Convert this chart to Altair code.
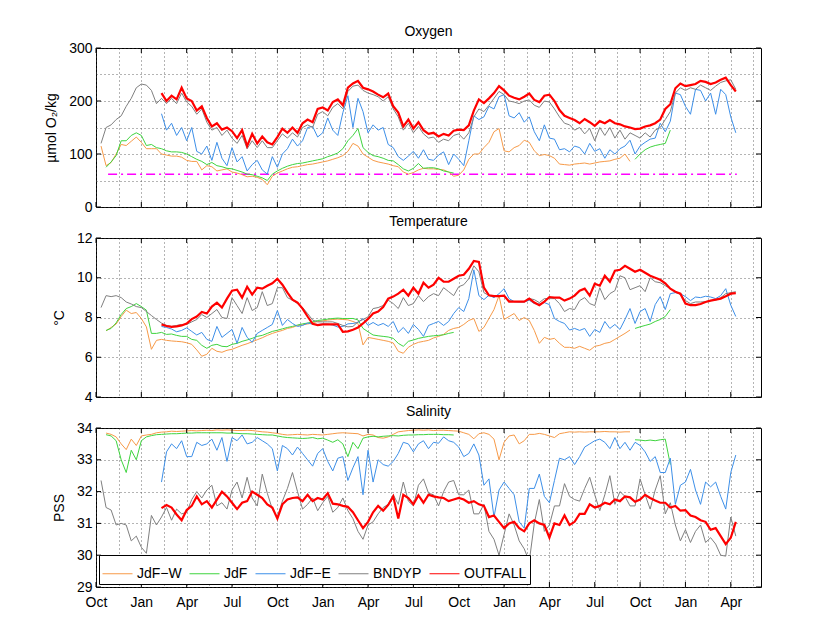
import altair as alt
import pandas as pd

# ---------------------------------------------------------------- constants
SERIES = ["JdF\u2212W", "JdF", "JdF\u2212E", "BNDYP", "OUTFALL"]
COLORS = ["#f79a48", "#3fd43f", "#3d8fe8", "#808080", "#ff0000"]
WIDTHS = [1, 1, 1, 1, 2.2]
MONTH_NAMES = ["Oct", "Jan", "Apr", "Jul"]
TICK_MONTHS = [0, 3, 6, 9, 12, 15, 18, 21, 24, 27, 30, 33, 36, 39, 42]
GRID_MONTHS = [0, 1.5, 3, 4.5, 6, 7.5, 9, 10.5, 12, 13.5, 15, 16.5, 18, 19.5, 21, 22.5,
               24, 25.5, 27, 28.5, 30, 31.5, 33, 34.5, 36, 37.5, 39, 40.5, 42, 43.5]
STEP = 1 / 3  # sampling interval of the series, months since 1 Oct

# ---------------------------------------------------------------- oxygen (umol/kg)
OXY_JDFW_START = 1
OXY_JDFW = [115, 78, 84, 100, 118, 116, 124, 132, 122, 110, 110,
            110, 100, 98, 96, 96, 94, 88, 86, 86, 70,
            78, 76, 68, 70, 72, 66, 64, 61, 57, 58,
            56, 52, 42, 58, 64, 68, 72, 75, 76, 78,
            80, 81, 83, 85, 87, 90, 93, 97, 105, 120,
            115, 100, 94, 88, 85, 83, 81, 78, 76, 66,
            62, 65, 70, 73, 72, 72, 71, 70, 66, 58,
            60, 70, 90, 100, 100, 112, 122, 142, 148, 106,
            104, 112, 116, 126, 122, 106, 97, 99, 97, 92,
            81, 80, 79, 81, 82, 83, 81, 83, 85, 86,
            87, 90, 92, 100, 86]
OXY_JDF_A_START = 2
OXY_JDF_A = [75, 85, 97, 125, 125, 135, 140, 135, 116, 118,
             112, 110, 106, 104, 104, 103, 100, 95, 90, 86,
             80, 84, 78, 76, 73, 72, 69, 66, 62, 61,
             58, 55, 50, 62, 68, 73, 77, 80, 82, 83,
             85, 87, 89, 91, 95, 98, 102, 110, 125, 135,
             148, 112, 103, 97, 95, 92, 88, 87, 80, 72,
             68, 73, 82, 73, 74, 74, 72, 68, 66, 64]
OXY_JDF_B_START = 107
OXY_JDF_B = [90, 100, 108, 113, 116, 118, 120, 145]
OXY_JDFE_START = 13
OXY_JDFE = [176, 145, 158, 135, 150, 125, 150, 105, 100, 115,
            88, 122, 92, 78, 112, 85, 95, 68, 80, 88,
            70, 62, 95, 75, 100, 110, 128, 115, 125, 150,
            152, 132, 140, 168, 145, 135, 178, 210, 150, 205,
            180, 140, 155, 145, 150, 118, 112, 95, 88, 96,
            105, 92, 108, 90, 88, 98, 104, 80, 100, 90,
            78, 125, 172, 165, 170, 190, 185, 208, 212, 172,
            168, 178, 160, 170, 142, 125, 155, 130, 128, 108,
            110, 104, 115, 112, 100, 120, 105, 110, 92, 108,
            100, 110, 115, 126, 100, 115, 122, 128, 130, 158,
            142, 162, 215, 212, 190, 175, 222, 220, 200, 215,
            175, 222, 212, 170, 140]
OXY_BNDYP_START = 1
OXY_BNDYP = [120, 150, 155, 165, 172, 190, 205, 225, 232, 230,
             220, 195, 205, 195, 205, 195, 215, 198, 190, 175,
             185, 160, 145, 150, 135, 145, 130, 120, 135, 110,
             125, 112, 125, 112, 112, 125, 138, 130, 140, 132,
             150, 155, 150, 175, 180, 172, 188, 195, 185, 218,
             228, 230, 220, 215, 212, 208, 200, 208, 185, 170,
             145, 158, 140, 152, 138, 130, 132, 122, 128, 125,
             135, 138, 128, 140, 170, 185, 180, 192, 205, 218,
             212, 200, 198, 195, 200, 202, 192, 188, 200, 198,
             185, 170, 158, 155, 145, 150, 138, 148, 125, 150,
             135, 150, 130, 145, 128, 140, 135, 130, 140, 132,
             145, 150, 165, 180, 215, 225, 220, 225, 222, 230,
             225, 220, 228, 235, 238, 240, 222]
OXY_OUTFALL_START = 13
OXY_OUTFALL = [215, 200, 210, 203, 225, 205, 200, 182, 190, 168,
               152, 158, 146, 150, 143, 130, 145, 115, 138, 120,
               133, 122, 118, 132, 148, 140, 150, 140, 158, 165,
               160, 185, 188, 182, 198, 203, 192, 225, 233, 238,
               225, 222, 218, 212, 207, 214, 190, 178, 152, 165,
               148, 160, 145, 138, 140, 133, 138, 135, 144, 146,
               145, 154, 182, 203, 196, 205, 215, 228, 220, 210,
               206, 203, 208, 214, 202, 198, 210, 212, 200, 183,
               172, 168, 164, 158, 166, 160, 153, 162, 158, 164,
               158, 156, 152, 150, 147, 148, 152, 154, 158, 165,
               185, 194, 224, 233, 228, 230, 232, 238, 236, 232,
               235, 240, 244, 230, 218]
OXY_THRESHOLD = [62, 62]
OXY_THRESHOLD_MONTHS = [0.8, 42.4]

# ---------------------------------------------------------------- temperature (deg C)
TEMP_JDFW_START = 2
TEMP_JDFW = [7.33, 7.5, 7.67, 8.05, 8.37, 8.2, 8.25, 7.95, 7.53, 6.4,
             6.85, 6.9, 6.85, 6.82, 6.8, 6.78, 6.73, 6.65, 6.37, 6.05,
             6.15, 6.45, 6.3, 6.25, 6.35, 6.4, 6.5, 6.6, 6.68, 6.78,
             6.88, 6.98, 7.1, 7.2, 7.28, 7.35, 7.45, 7.5, 7.6, 7.63,
             7.67, 7.73, 7.8, 7.83, 7.87, 7.9, 7.92, 7.9, 7.88, 7.8,
             7.7, 6.62, 7.0, 6.95, 6.9, 6.85, 6.8, 6.72, 6.3, 6.2,
             6.5, 6.65, 6.75, 6.8, 6.85, 6.97, 7.05, 7.15, 7.35, 7.45,
             7.5, 7.65, 7.85, 7.95, 7.3, 7.5, 7.95, 8.4, 9.1, 7.9,
             8.05, 8.2, 7.85, 8.0, 7.85, 7.35, 6.7, 7.0, 6.9, 6.95,
             6.7, 6.5, 6.5, 6.45, 6.55, 6.45, 6.35, 6.55, 6.6, 6.7,
             6.75, 6.9, 7.05, 7.2, 7.37]
TEMP_JDF_A_START = 2
TEMP_JDF_A = [7.35, 7.45, 7.73, 8.15, 8.45, 8.55, 8.7, 8.55, 8.37, 7.2,
              7.2, 7.25, 7.15, 7.17, 7.1, 7.05, 7.05, 6.9, 6.85, 6.6,
              6.45, 6.6, 6.65, 6.55, 6.53, 6.65, 6.7, 6.8, 6.87, 6.95,
              7.05, 7.1, 7.2, 7.3, 7.36, 7.43, 7.5, 7.55, 7.62, 7.68,
              7.72, 7.78, 7.85, 7.88, 7.92, 7.95, 7.97, 7.95, 7.95, 7.95,
              7.88, 7.45, 7.28, 7.12, 7.08, 7.05, 7.02, 6.95, 6.7, 6.55,
              6.8, 6.87, 6.95, 7.0, 7.05, 7.08, 7.1, 7.13, 7.2, 7.25]
TEMP_JDF_B_START = 107
TEMP_JDF_B = [7.45, 7.53, 7.6, 7.67, 7.8, 7.9, 8.05, 8.4]
TEMP_JDFE_START = 13
TEMP_JDFE = [7.55, 7.5, 7.42, 7.28, 7.35, 7.48, 7.3, 7.12, 7.25, 6.9,
             6.8, 7.55, 7.0, 7.2, 7.4, 6.7, 7.5, 7.0, 6.75, 7.2,
             7.35, 7.5, 7.65, 8.35, 7.6, 7.9, 7.7, 7.55, 7.6, 7.72,
             7.67, 7.65, 7.67, 7.67, 7.62, 7.52, 7.55, 7.68, 7.7, 7.75,
             7.95, 7.6, 7.75, 7.6, 7.7, 7.55, 7.8, 7.25, 7.5, 7.2,
             7.65, 7.4, 7.05, 7.6, 7.7, 7.8, 7.6, 7.8, 8.2, 8.5,
             8.3, 8.95, 10.4, 9.1, 8.9, 9.12, 9.0, 9.2, 9.45, 8.95,
             8.8, 8.78, 8.78, 8.87, 8.7, 8.68, 8.75, 8.65, 7.95, 7.8,
             7.7, 7.37, 7.45, 7.35, 7.45, 7.05, 7.4, 7.25, 7.8, 7.45,
             7.65, 7.4, 7.9, 8.45, 7.7, 8.3, 8.45, 7.8, 8.65, 9.05,
             8.4, 9.2, 9.25, 9.2, 9.05, 8.85, 9.03, 9.0, 9.07, 9.03,
             8.95, 9.1, 9.45, 8.62, 8.05]
TEMP_BNDYP_START = 1
TEMP_BNDYP = [8.5, 9.1, 9.05, 9.1, 9.0, 8.78, 8.68, 8.55, 8.5, 8.3,
              8.1, 7.9, 7.72, 7.6, 7.55, 7.6, 7.65, 7.65, 7.78, 7.9,
              8.15, 8.0, 8.2, 8.4, 8.0, 7.95, 9.0, 8.6, 8.2, 9.0,
              8.35, 8.5, 9.3, 8.6, 8.7, 9.5, 9.5, 9.0, 8.87, 8.7,
              8.5, 8.2, 7.87, 7.78, 7.78, 7.78, 7.78, 7.7, 7.6, 7.53,
              7.55, 7.78, 7.9, 8.03, 8.45, 8.5, 8.6, 8.87, 8.7, 8.45,
              9.0, 8.6, 8.7, 9.1, 8.8, 9.05, 9.2, 9.1, 9.5, 9.3,
              9.1, 9.55, 9.65, 9.95, 10.6, 10.3, 9.25, 9.1, 9.08, 9.1,
              9.05, 8.85, 8.8, 8.8, 8.8, 8.95, 8.9, 8.75, 8.95, 8.95,
              8.95, 8.7, 8.3, 8.45, 8.4, 8.85, 9.0, 8.7, 8.6, 9.5,
              8.9, 9.2, 9.35, 10.1, 10.0, 9.4, 9.5, 9.6, 9.3, 10.0,
              9.8, 9.75, 9.6, 9.45, 9.3, 9.15, 8.85, 8.7, 8.78, 8.78,
              8.8, 8.85, 8.87, 9.0, 9.2, 9.25, 9.3]
TEMP_OUTFALL_START = 13
TEMP_OUTFALL = [7.65, 7.57, 7.53, 7.55, 7.6, 7.7, 7.92, 8.05, 8.28, 8.2,
                8.55, 8.75, 8.5, 8.95, 9.35, 9.4, 9.0, 9.55, 9.15, 9.5,
                9.45, 9.6, 9.72, 9.95, 9.65, 9.25, 8.9, 8.75, 8.45, 8.05,
                7.68, 7.62, 7.65, 7.66, 7.65, 7.65, 7.28, 7.3, 7.38, 7.5,
                7.7, 7.93, 8.2, 8.3, 8.53, 8.95, 9.05, 9.2, 9.4, 9.1,
                9.5, 9.2, 9.75, 9.5, 9.65, 10.0, 9.8, 9.8, 9.95, 10.1,
                10.15, 10.45, 10.85, 10.8, 9.5, 9.12, 9.08, 9.08, 9.1, 8.8,
                8.8, 8.8, 8.8, 8.95, 8.75, 8.62, 8.8, 9.03, 9.0, 9.0,
                8.85, 8.95, 9.1, 9.35, 9.45, 9.1, 9.7, 9.6, 10.1, 9.8,
                10.35, 10.4, 10.6, 10.45, 10.3, 10.4, 10.25, 10.1, 10.0, 9.9,
                9.72, 9.45, 9.3, 9.2, 8.7, 8.62, 8.62, 8.68, 8.78, 8.85,
                8.9, 8.95, 9.07, 9.2, 9.23]

# ---------------------------------------------------------------- salinity (PSS)
SAL_JDFW_START = 2
SAL_JDFW = [33.84, 33.8, 33.72, 33.5, 33.32, 33.65, 33.45, 33.75, 33.78, 33.8,
            33.85, 33.87, 33.88, 33.9, 33.89, 33.9, 33.91, 33.92, 33.91, 33.92,
            33.93, 33.92, 33.94, 33.93, 33.94, 33.93, 33.92, 33.92, 33.93, 33.92,
            33.9, 33.88, 33.87, 33.85, 33.83, 33.8, 33.78, 33.79, 33.8, 33.79,
            33.78, 33.8, 33.79, 33.78, 33.8, 33.82, 33.84, 33.85, 33.84, 33.83,
            33.82, 33.75, 33.8, 33.78, 33.7, 33.68, 33.72, 33.8, 33.88, 33.9,
            33.92, 33.93, 33.94, 33.93, 33.94, 33.92, 33.93, 33.93, 33.92, 33.91,
            33.9, 33.85, 33.8, 33.66, 33.82, 33.85, 33.8, 33.65, 33.0, 33.55,
            33.75, 33.78, 33.5, 33.6, 33.8, 33.8, 33.83, 33.8, 33.75, 33.7,
            33.82, 33.85, 33.88, 33.87, 33.88, 33.87, 33.88, 33.88, 33.88, 33.89,
            33.88, 33.88, 33.87, 33.88, 33.88]
SAL_JDF_A_START = 2
SAL_JDF_A = [33.79, 33.75, 33.6, 33.0, 32.6, 33.3, 33.0, 33.6, 33.72, 33.76,
             33.79, 33.8, 33.81, 33.82, 33.82, 33.83, 33.84, 33.84, 33.85, 33.85,
             33.85, 33.85, 33.85, 33.85, 33.84, 33.84, 33.83, 33.82, 33.82, 33.81,
             33.8, 33.79, 33.78, 33.78, 33.75, 33.72, 33.7, 33.69, 33.68, 33.67,
             33.68, 33.7, 33.66, 33.68, 33.62, 33.55, 33.63, 33.5, 33.1, 33.55,
             33.35, 33.68, 33.72, 33.74, 33.72, 33.74, 33.75, 33.76, 33.75, 33.77,
             33.78, 33.78, 33.79, 33.79, 33.8, 33.8, 33.8, 33.79, 33.79, 33.78]
SAL_JDF_B_START = 107
SAL_JDF_B = [33.63, 33.62, 33.6, 33.62, 33.6, 33.63, 33.65, 32.85]
SAL_JDFE_START = 13
SAL_JDFE = [32.3, 33.25, 33.5, 33.35, 33.6, 33.1, 33.1, 33.55, 33.45, 33.5,
            33.65, 33.3, 33.7, 32.95, 33.7, 33.6, 33.78, 33.5, 33.55, 33.7,
            33.6, 33.5, 33.35, 32.65, 33.45, 33.35, 33.15, 33.4, 33.2, 33.0,
            32.8, 33.2, 33.35, 32.95, 32.65, 33.05, 33.1, 32.35, 32.75, 33.1,
            31.9, 33.3, 32.3, 33.0, 32.85, 32.8, 32.95, 33.2, 33.55, 33.5,
            33.25, 33.5, 33.6, 33.35, 33.55, 33.52, 33.72, 33.6, 33.55, 33.4,
            33.1, 33.2, 33.5, 33.15, 32.2, 32.4, 31.2, 32.05, 32.3, 32.1,
            31.9, 31.05, 30.85, 32.1, 32.1, 32.55, 31.85, 31.65, 32.35, 33.05,
            33.0, 33.1, 32.85, 33.1, 33.4, 33.5, 33.6, 33.65, 33.55, 33.35,
            33.7, 33.35, 33.55, 33.3, 33.55, 33.45, 33.25, 32.95, 33.1, 32.6,
            32.6, 33.05, 31.6, 32.2, 32.3, 32.7, 32.05, 31.6, 32.3, 32.15,
            32.3, 31.85, 31.45, 32.6, 33.15]
SAL_BNDYP_START = 1
SAL_BNDYP = [32.35, 31.5, 31.42, 30.95, 31.0, 30.95, 30.45, 30.6, 30.25, 30.06,
             31.25, 30.95, 31.2, 31.5, 31.1, 31.45, 31.3, 31.35, 31.75, 32.0,
             31.8, 32.05, 32.2, 31.55, 31.65, 31.45, 32.05, 32.3, 31.8, 32.45,
             31.8, 31.55, 32.55, 31.95, 31.45, 31.2, 31.7, 32.1, 32.6, 32.0,
             31.45, 31.6, 31.8, 31.4, 31.65, 31.85, 31.35, 31.5, 31.8, 31.4,
             31.15, 30.75, 30.5, 30.95, 31.05, 31.3, 31.5, 31.6, 31.9, 31.6,
             32.3, 31.7, 31.55, 32.2, 32.4, 31.95, 31.9, 31.55, 32.0, 32.3,
             32.35, 31.9, 31.9, 32.05, 31.3, 31.3, 31.6, 30.75, 30.5, 30.0,
             30.65, 31.3, 30.95, 30.45, 30.2, 29.8, 31.0, 31.75, 30.75, 30.95,
             31.55, 31.55, 32.25, 31.85, 31.75, 31.7, 32.1, 32.45, 31.9, 31.4,
             31.9, 32.5, 31.6, 32.0, 31.85, 31.55, 31.55, 32.4, 31.9, 31.45,
             32.05, 32.5, 31.3, 31.65, 30.95, 30.45, 30.8, 30.4, 30.75, 30.95,
             30.4, 30.55, 30.35, 30.0, 29.97, 31.2, 30.6]
SAL_OUTFALL_START = 13
SAL_OUTFALL = [31.48, 31.58, 31.5, 31.28, 31.1, 31.42, 31.55, 31.85, 31.6, 31.7,
               31.5, 31.75, 32.0, 31.85, 31.65, 31.45, 31.65, 31.7, 32.0, 31.9,
               31.8, 31.6, 31.5, 31.15, 31.6, 31.75, 31.8, 31.82, 31.7, 31.9,
               31.7, 31.8, 31.75, 31.95, 31.62, 31.6, 31.55, 31.52, 31.35, 31.1,
               30.85, 31.05, 31.35, 31.55, 31.4, 31.58, 31.85, 31.15, 31.9, 31.8,
               31.6, 31.88, 31.65, 31.9, 31.85, 31.82, 31.8, 31.7, 31.75, 31.8,
               31.75, 31.65, 31.7, 31.6, 31.55, 31.2, 31.25, 31.05, 30.85, 31.0,
               31.05, 30.85, 30.75, 31.0, 31.1, 31.0, 30.95, 30.55, 31.0, 30.95,
               31.25, 30.95, 31.05, 31.3, 31.3, 31.6, 31.5, 31.55, 31.65, 31.6,
               31.75, 31.7, 31.85, 31.82, 31.68, 31.75, 31.9, 31.8, 31.72, 31.65,
               31.65, 31.5, 31.55, 31.4, 31.42, 31.25, 31.2, 31.1, 31.05, 30.8,
               30.85, 30.6, 30.35, 30.55, 31.05]

FONT = "Liberation Sans"
W, H = 665, 159


def frame(parts):
    rows = []
    for name, seg, start, values in parts:
        for k, v in enumerate(values):
            rows.append({"month": (start + k) * STEP, "value": v, "series": name, "seg": seg})
    return pd.DataFrame(rows)


def panel(df, title, ytitle, ydomain, yvalues, ylabels, show_x, legend, threshold=None):
    xscale = alt.Scale(domain=[0, 44], nice=False, zero=False)
    yscale = alt.Scale(domain=ydomain, nice=False, zero=False)
    xaxis = alt.Axis(values=GRID_MONTHS, grid=True, labels=show_x, ticks=False, domain=False,
                     title=None, labelFlush=False, labelOverlap=False, labelPadding=8,
                     labelExpr="datum.value % 3 == 0 ? " + str(MONTH_NAMES) +
                               "[floor(datum.value / 3) % 4] : ''")
    yaxis = alt.Axis(values=yvalues, grid=True, ticks=False, domain=False, title=ytitle,
                     labelFlush=False, labelOverlap=False, labelPadding=4, titlePadding=10,
                     labelExpr="indexof(" + str(ylabels) + ", datum.value) >= 0 ? datum.label : ''")
    X = alt.X("month:Q", scale=xscale, axis=xaxis)
    Y = alt.Y("value:Q", scale=yscale, axis=yaxis)
    color = alt.Color("series:N", scale=alt.Scale(domain=SERIES, range=COLORS), legend=legend)
    layers = []
    if threshold is not None:
        tdf = pd.DataFrame({"month": OXY_THRESHOLD_MONTHS, "value": threshold})
        layers.append(alt.Chart(tdf).mark_line(color="#ff00ff", strokeWidth=1.5,
                                               strokeDash=[9, 4, 2, 4]).encode(x=X, y=Y))
    for name, width in zip(SERIES, WIDTHS):
        layers.append(alt.Chart(df).transform_filter(alt.datum.series == name)
                      .mark_line(strokeWidth=width, clip=True)
                      .encode(x=X, y=Y, color=color, detail="seg:N"))
    xt = pd.DataFrame({"month": TICK_MONTHS})
    yt = pd.DataFrame({"value": ylabels})
    layers.append(alt.Chart(xt).mark_rule(color="black").encode(
        x=X, y=alt.value(H), y2=alt.value(H - 5)))
    layers.append(alt.Chart(xt).mark_rule(color="black").encode(
        x=X, y=alt.value(0), y2=alt.value(5)))
    layers.append(alt.Chart(yt).mark_rule(color="black").encode(
        y=Y, x=alt.value(0), x2=alt.value(5)))
    layers.append(alt.Chart(yt).mark_rule(color="black").encode(
        y=Y, x=alt.value(W), x2=alt.value(W - 5)))
    return alt.layer(*layers, title=alt.Title(title, frame="group")).properties(width=W, height=H)


oxy = frame([(SERIES[0], 0, OXY_JDFW_START, OXY_JDFW),
             (SERIES[1], 0, OXY_JDF_A_START, OXY_JDF_A),
             (SERIES[1], 1, OXY_JDF_B_START, OXY_JDF_B),
             (SERIES[2], 0, OXY_JDFE_START, OXY_JDFE),
             (SERIES[3], 0, OXY_BNDYP_START, OXY_BNDYP),
             (SERIES[4], 0, OXY_OUTFALL_START, OXY_OUTFALL)])
temp = frame([(SERIES[0], 0, TEMP_JDFW_START, TEMP_JDFW),
              (SERIES[1], 0, TEMP_JDF_A_START, TEMP_JDF_A),
              (SERIES[1], 1, TEMP_JDF_B_START, TEMP_JDF_B),
              (SERIES[2], 0, TEMP_JDFE_START, TEMP_JDFE),
              (SERIES[3], 0, TEMP_BNDYP_START, TEMP_BNDYP),
              (SERIES[4], 0, TEMP_OUTFALL_START, TEMP_OUTFALL)])
sal = frame([(SERIES[0], 0, SAL_JDFW_START, SAL_JDFW),
             (SERIES[1], 0, SAL_JDF_A_START, SAL_JDF_A),
             (SERIES[1], 1, SAL_JDF_B_START, SAL_JDF_B),
             (SERIES[2], 0, SAL_JDFE_START, SAL_JDFE),
             (SERIES[3], 0, SAL_BNDYP_START, SAL_BNDYP),
             (SERIES[4], 0, SAL_OUTFALL_START, SAL_OUTFALL)])

legend = alt.Legend(orient="bottom-left", direction="horizontal", columns=5, title=None,
                    symbolType="stroke", symbolSize=900, symbolStrokeWidth=1,
                    labelFont=FONT, labelFontSize=14, labelColor="black", labelOffset=4,
                    columnPadding=5, padding=3, offset=3, fillColor="white",
                    strokeColor="black")

p1 = panel(oxy, "Oxygen", "\u00b5mol O\u2082/kg", [0, 300], [0, 50, 100, 150, 200, 250, 300],
           [0, 100, 200, 300], False, None, threshold=OXY_THRESHOLD)
p2 = panel(temp, "Temperature", "\u00b0C", [4, 12], [4, 6, 8, 10, 12], [4, 6, 8, 10, 12],
           False, None)
p3 = panel(sal, "Salinity", "PSS", [29, 34], [29, 30, 31, 32, 33, 34], [29, 30, 31, 32, 33, 34],
           True, legend)

chart = (alt.vconcat(p1, p2, p3, spacing=31, bounds="flush")
         .resolve_scale(color="independent", y="independent")
         .properties(padding={"left": 36, "top": 16, "right": 5, "bottom": 5},
                     background="white")
         .configure_view(stroke="black", strokeWidth=1)
         .configure_axis(labelFont=FONT, labelFontSize=14, labelColor="black",
                         titleFont=FONT, titleFontSize=14, titleFontWeight="normal",
                         titleColor="black", gridColor="#444", gridDash=[1, 3],
                         gridWidth=1, gridOpacity=0.8)
         .configure_title(font=FONT, fontSize=14, fontWeight="normal", color="black",
                          offset=2, anchor="middle"))

chart.save("out.html", embed_options={"renderer": "svg", "actions": False})
